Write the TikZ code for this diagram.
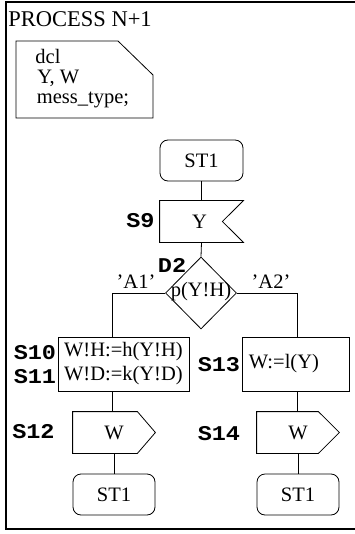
\documentclass[tikz,border=0pt]{standalone}
\usepackage{fontspec}
\setmainfont{Liberation Serif}
\setmonofont{Liberation Mono}
\newfontfamily\lblfont[FakeStretch=1.12]{Liberation Mono}
\usetikzlibrary{shapes.geometric}
\begin{document}
\begin{tikzpicture}[x=1pt,y=-1pt, line width=0.8pt,
  lbl/.style={font=\fontsize{21}{22}\selectfont\lblfont\bfseries, inner sep=0pt},
  txt/.style={font=\fontsize{20.5}{24}\selectfont, inner sep=0pt},
  startbox/.style={draw, rounded corners=8pt, minimum width=83pt, minimum height=41pt, font=\fontsize{20.5}{24}\selectfont, inner sep=0pt},
  sigbox/.style={minimum width=82pt, minimum height=41pt, font=\fontsize{20.5}{24}\selectfont, inner sep=0pt},
  taskbox/.style={draw, minimum height=54pt, font=\fontsize{20.5}{24}\selectfont, align=left}]
\useasboundingbox (0,0) rectangle (354,534);
% frame
\draw[line width=1.2pt] (360,2) -- (6,2) -- (6,529) -- (360,529);
\node[anchor=base west, inner sep=0pt, font=\fontsize{22.5}{24}\selectfont] (title) at (8,27) {PROCESS N+1};
% declaration note
\draw (16,41) -- (118,41) -- (153,75) -- (153,118) -- (16,118) -- cycle;
\node[txt, anchor=base west] (dcl1) at (35,64) {dcl};
\node[txt, anchor=base west] (dcl2) at (37,84) {Y, W};
\node[txt, anchor=base west] (dcl3) at (36.5,104) {mess\_type;};
% start
\node[startbox] (st0) at (201.5,160.5) {ST1};
% input
\node[sigbox, minimum width=83pt] (in9) at (201.5,221.5) {\hspace{-4pt}Y};
\draw (in9.north west) -- (in9.north east) -- ([xshift=-21pt]in9.east) -- (in9.south east) -- (in9.south west) -- cycle;
\node[lbl, anchor=east] (s9) at (155,221) {S9};
% decision
\node[diamond, draw, minimum width=71pt, minimum height=72pt, inner sep=0pt] (d2) at (201,293) {};
\node[txt] (d2t) at (201,292) {p(Y!H)};
\node[lbl] (d2l) at (172,265) {D2};
\node[txt] (a1) at (136,282) {'A1'};
\node[txt] (a2) at (271,282) {'A2'};
\coordinate (jl) at (112,293);
\coordinate (jr) at (297,293);
% left branch
\node[taskbox, minimum width=131pt, inner sep=3pt] (t10) at (123.4,364) {W!H:=h(Y!H)\\W!D:=k(Y!D)};
\node[lbl, anchor=east] (s10) at (56.5,353) {S10};
\node[lbl, anchor=east] (s11) at (56.5,377) {S11};
\node[sigbox] (o12) at (114,432.5) {W};
\draw (o12.north west) -- ([xshift=-18pt]o12.north east) -- (o12.east) -- ([xshift=-18pt]o12.south east) -- (o12.south west) -- cycle;
\node[lbl, anchor=east] (s12) at (55,432) {S12};
\node[startbox, minimum width=82pt] (st1) at (114,494.5) {ST1};
% right branch
\node[taskbox, minimum width=107pt, text width=93pt, inner sep=7pt] (t13) at (295.4,364) {W:=l(Y)};
\node[lbl, anchor=east] (s13) at (240.5,365) {S13};
\node[sigbox] (o14) at (298,432.5) {W};
\draw (o14.north west) -- ([xshift=-21pt]o14.north east) -- (o14.east) -- ([xshift=-21pt]o14.south east) -- (o14.south west) -- cycle;
\node[lbl, anchor=east] (s14) at (240.5,434) {S14};
\node[startbox, minimum width=82pt] (st2) at (298,494.5) {ST1};
% connectors
\draw (st0) -- (in9);
\draw (in9.south) -- (d2.north);
\draw (d2.west) -- (jl) -- (jl |- t10.north);
\draw (d2.east) -- (jr) -- (jr |- t13.north);
\draw (jl |- t10.south) -- (jl |- o12.north);
\draw (o12.south) -- (st1.north);
\draw (jr |- t13.south) -- (jr |- o14.north);
\draw (o14.south) -- (st2.north);
\end{tikzpicture}
\end{document}
